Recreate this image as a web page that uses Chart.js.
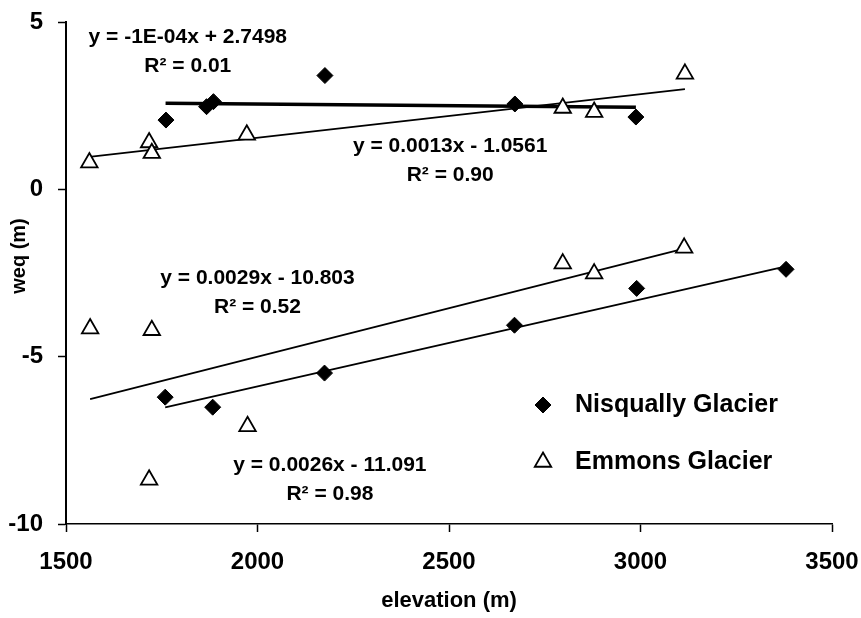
<!DOCTYPE html>
<html>
<head>
<meta charset="utf-8">
<title>weq vs elevation</title>
<script src="https://cdn.jsdelivr.net/npm/chart.js@4.4.1/dist/chart.umd.min.js"></script>
<style>
    html, body { margin: 0; padding: 0; background: #fff; }
    #wrap { width: 861px; height: 618px; }
</style>
</head>
<body>
<div id="wrap"><canvas id="glacierChart" width="861" height="618"></canvas></div>
<script>
// measured points (elevation in m, weq in m)
const nisquallyElevation = [1761, 1867, 1885, 2176, 2672, 2988, 1759, 1883, 2175, 2671, 2990, 3380];
const nisquallyWeq       = [2.07, 2.47, 2.62, 3.40, 2.55, 2.16, -6.21, -6.51, -5.49, -4.06, -2.96, -2.39];
const emmonsElevation    = [1561, 1717, 1724, 1972, 2797, 2879, 3116, 1563, 1724, 1974, 1717, 2797, 2879, 3114];
const emmonsWeq          = [0.80, 1.40, 1.08, 1.63, 2.43, 2.31, 3.45, -4.16, -4.21, -7.08, -8.68, -2.22, -2.52, -1.75];

// trendline end points
const nisquallyTopTrendX = [1760, 2988];
const nisquallyTopTrendY = [2.574, 2.451];
const nisquallyLowTrendX = [1759, 3380];
const nisquallyLowTrendY = [-6.518, -2.303];
const emmonsTopTrendX    = [1561, 3116];
const emmonsTopTrendY    = [0.973, 2.995];
const emmonsLowTrendX    = [1563, 3114];
const emmonsLowTrendY    = [-6.270, -1.773];

const fitEquations = ['y = -1E-04x + 2.7498', 'y = 0.0013x - 1.0561', 'y = 0.0029x - 10.803', 'y = 0.0026x - 11.091'];
const fitR2        = ['R² = 0.01', 'R² = 0.90', 'R² = 0.52', 'R² = 0.98'];

const xTicks = [1500, 2000, 2500, 3000, 3500];
const yTicks = [-10, -5, 0, 5];

const seriesNames = ['Nisqually Glacier', 'Emmons Glacier'];

// where the fit labels sit (data coords of the label centre)
const fitLabelPlace = [
    { x: 1818, y: 4.56 },
    { x: 2503, y: 1.30 },
    { x: 2000, y: -2.65 },
    { x: 2189, y: -8.25 }
];

const FONT = "'Liberation Sans', Arial, sans-serif";

function toPoints(xs, ys) {
    return xs.map((x, i) => ({ x: x, y: ys[i] }));
}

function trendDataset(xs, ys, width) {
    return {
        data: toPoints(xs, ys),
        showLine: true,
        borderColor: '#000',
        borderWidth: width,
        pointRadius: 0,
        fill: false
    };
}

const fitLabels = {
    id: 'fitLabels',
    afterDatasetsDraw(chart) {
        const ctx = chart.ctx;
        const xs = chart.scales.x;
        const ys = chart.scales.y;
        ctx.save();
        ctx.fillStyle = '#000';
        ctx.font = 'bold 21px ' + FONT;
        ctx.textAlign = 'center';
        ctx.textBaseline = 'middle';
        fitEquations.forEach((eq, i) => {
            const px = xs.getPixelForValue(fitLabelPlace[i].x);
            const py = ys.getPixelForValue(fitLabelPlace[i].y);
            ctx.fillText(eq, px, py);
            ctx.fillText(fitR2[i], px, py + 29);
        });
        // y axis title
        ctx.font = 'bold 20px ' + FONT;
        ctx.translate(19, 256);
        ctx.rotate(-Math.PI / 2);
        ctx.fillText('weq (m)', 0, 0);
        ctx.restore();
    }
};

const markerLegend = {
    id: 'markerLegend',
    afterDraw(chart) {
        const ctx = chart.ctx;
        ctx.save();
        [0, 1].forEach((dsIndex, i) => {
            const ds = chart.data.datasets[dsIndex];
            const y = 405 + i * 57;
            ctx.fillStyle = ds.backgroundColor;
            ctx.strokeStyle = ds.borderColor;
            ctx.lineWidth = ds.borderWidth;
            Chart.helpers.drawPoint(ctx, {
                pointStyle: ds.pointStyle,
                radius: ds.pointRadius,
                borderWidth: ds.borderWidth
            }, 543, y);
            ctx.fillStyle = '#000';
            ctx.font = 'bold 25px ' + FONT;
            ctx.textAlign = 'left';
            ctx.textBaseline = 'middle';
            ctx.fillText(seriesNames[i], 575, y);
        });
        ctx.restore();
    }
};

const tickFont = { family: FONT, size: 24, weight: 'bold' };

const config = {
    type: 'scatter',
    data: {
        datasets: [
            {
                label: seriesNames[0],
                data: toPoints(nisquallyElevation, nisquallyWeq),
                pointStyle: 'rectRot',
                pointRadius: 8,
                backgroundColor: '#000',
                borderColor: '#000',
                borderWidth: 1
            },
            {
                label: seriesNames[1],
                data: toPoints(emmonsElevation, emmonsWeq),
                pointStyle: 'triangle',
                pointRadius: 9.5,
                backgroundColor: '#fff',
                borderColor: '#000',
                borderWidth: 1.8
            },
            trendDataset(nisquallyTopTrendX, nisquallyTopTrendY, 3.5),
            trendDataset(nisquallyLowTrendX, nisquallyLowTrendY, 1.8),
            trendDataset(emmonsTopTrendX, emmonsTopTrendY, 1.8),
            trendDataset(emmonsLowTrendX, emmonsLowTrendY, 1.8)
        ]
    },
    options: {
        responsive: false,
        animation: false,
        layout: { padding: { top: 22, right: 29, left: 0, bottom: 4 } },
        plugins: {
            legend: { display: false },
            tooltip: { enabled: false }
        },
        scales: {
            x: {
                type: 'linear',
                min: 1500,
                max: 3500,
                afterBuildTicks: (scale) => { scale.ticks = xTicks.map(v => ({ value: v })); },
                ticks: { color: '#000', font: tickFont, padding: 16, maxRotation: 0, callback: (v) => String(v) },
                grid: { drawOnChartArea: false, tickLength: 8, tickColor: '#000', tickWidth: 1.5 },
                border: { color: '#000', width: 1.5 },
                title: {
                    display: true,
                    text: 'elevation (m)',
                    color: '#000',
                    font: { family: FONT, size: 22, weight: 'bold' },
                    padding: { top: 0, bottom: 0 }
                },
                afterFit: (scale) => {
                    scale.height = 90;
                    scale.paddingLeft = 0;
                    scale.paddingRight = 0;
                }
            },
            y: {
                type: 'linear',
                min: -10,
                max: 5,
                afterBuildTicks: (scale) => { scale.ticks = yTicks.map(v => ({ value: v })); },
                ticks: { color: '#000', font: tickFont, padding: 15 },
                grid: { drawOnChartArea: false, tickLength: 8, tickColor: '#000', tickWidth: 1.5 },
                border: { color: '#000', width: 2 },
                afterFit: (scale) => {
                    scale.width = 66;
                    scale.paddingTop = 0;
                    scale.paddingBottom = 0;
                }
            }
        }
    },
    plugins: [fitLabels, markerLegend]
};

new Chart(document.getElementById('glacierChart'), config);
</script>
</body>
</html>
